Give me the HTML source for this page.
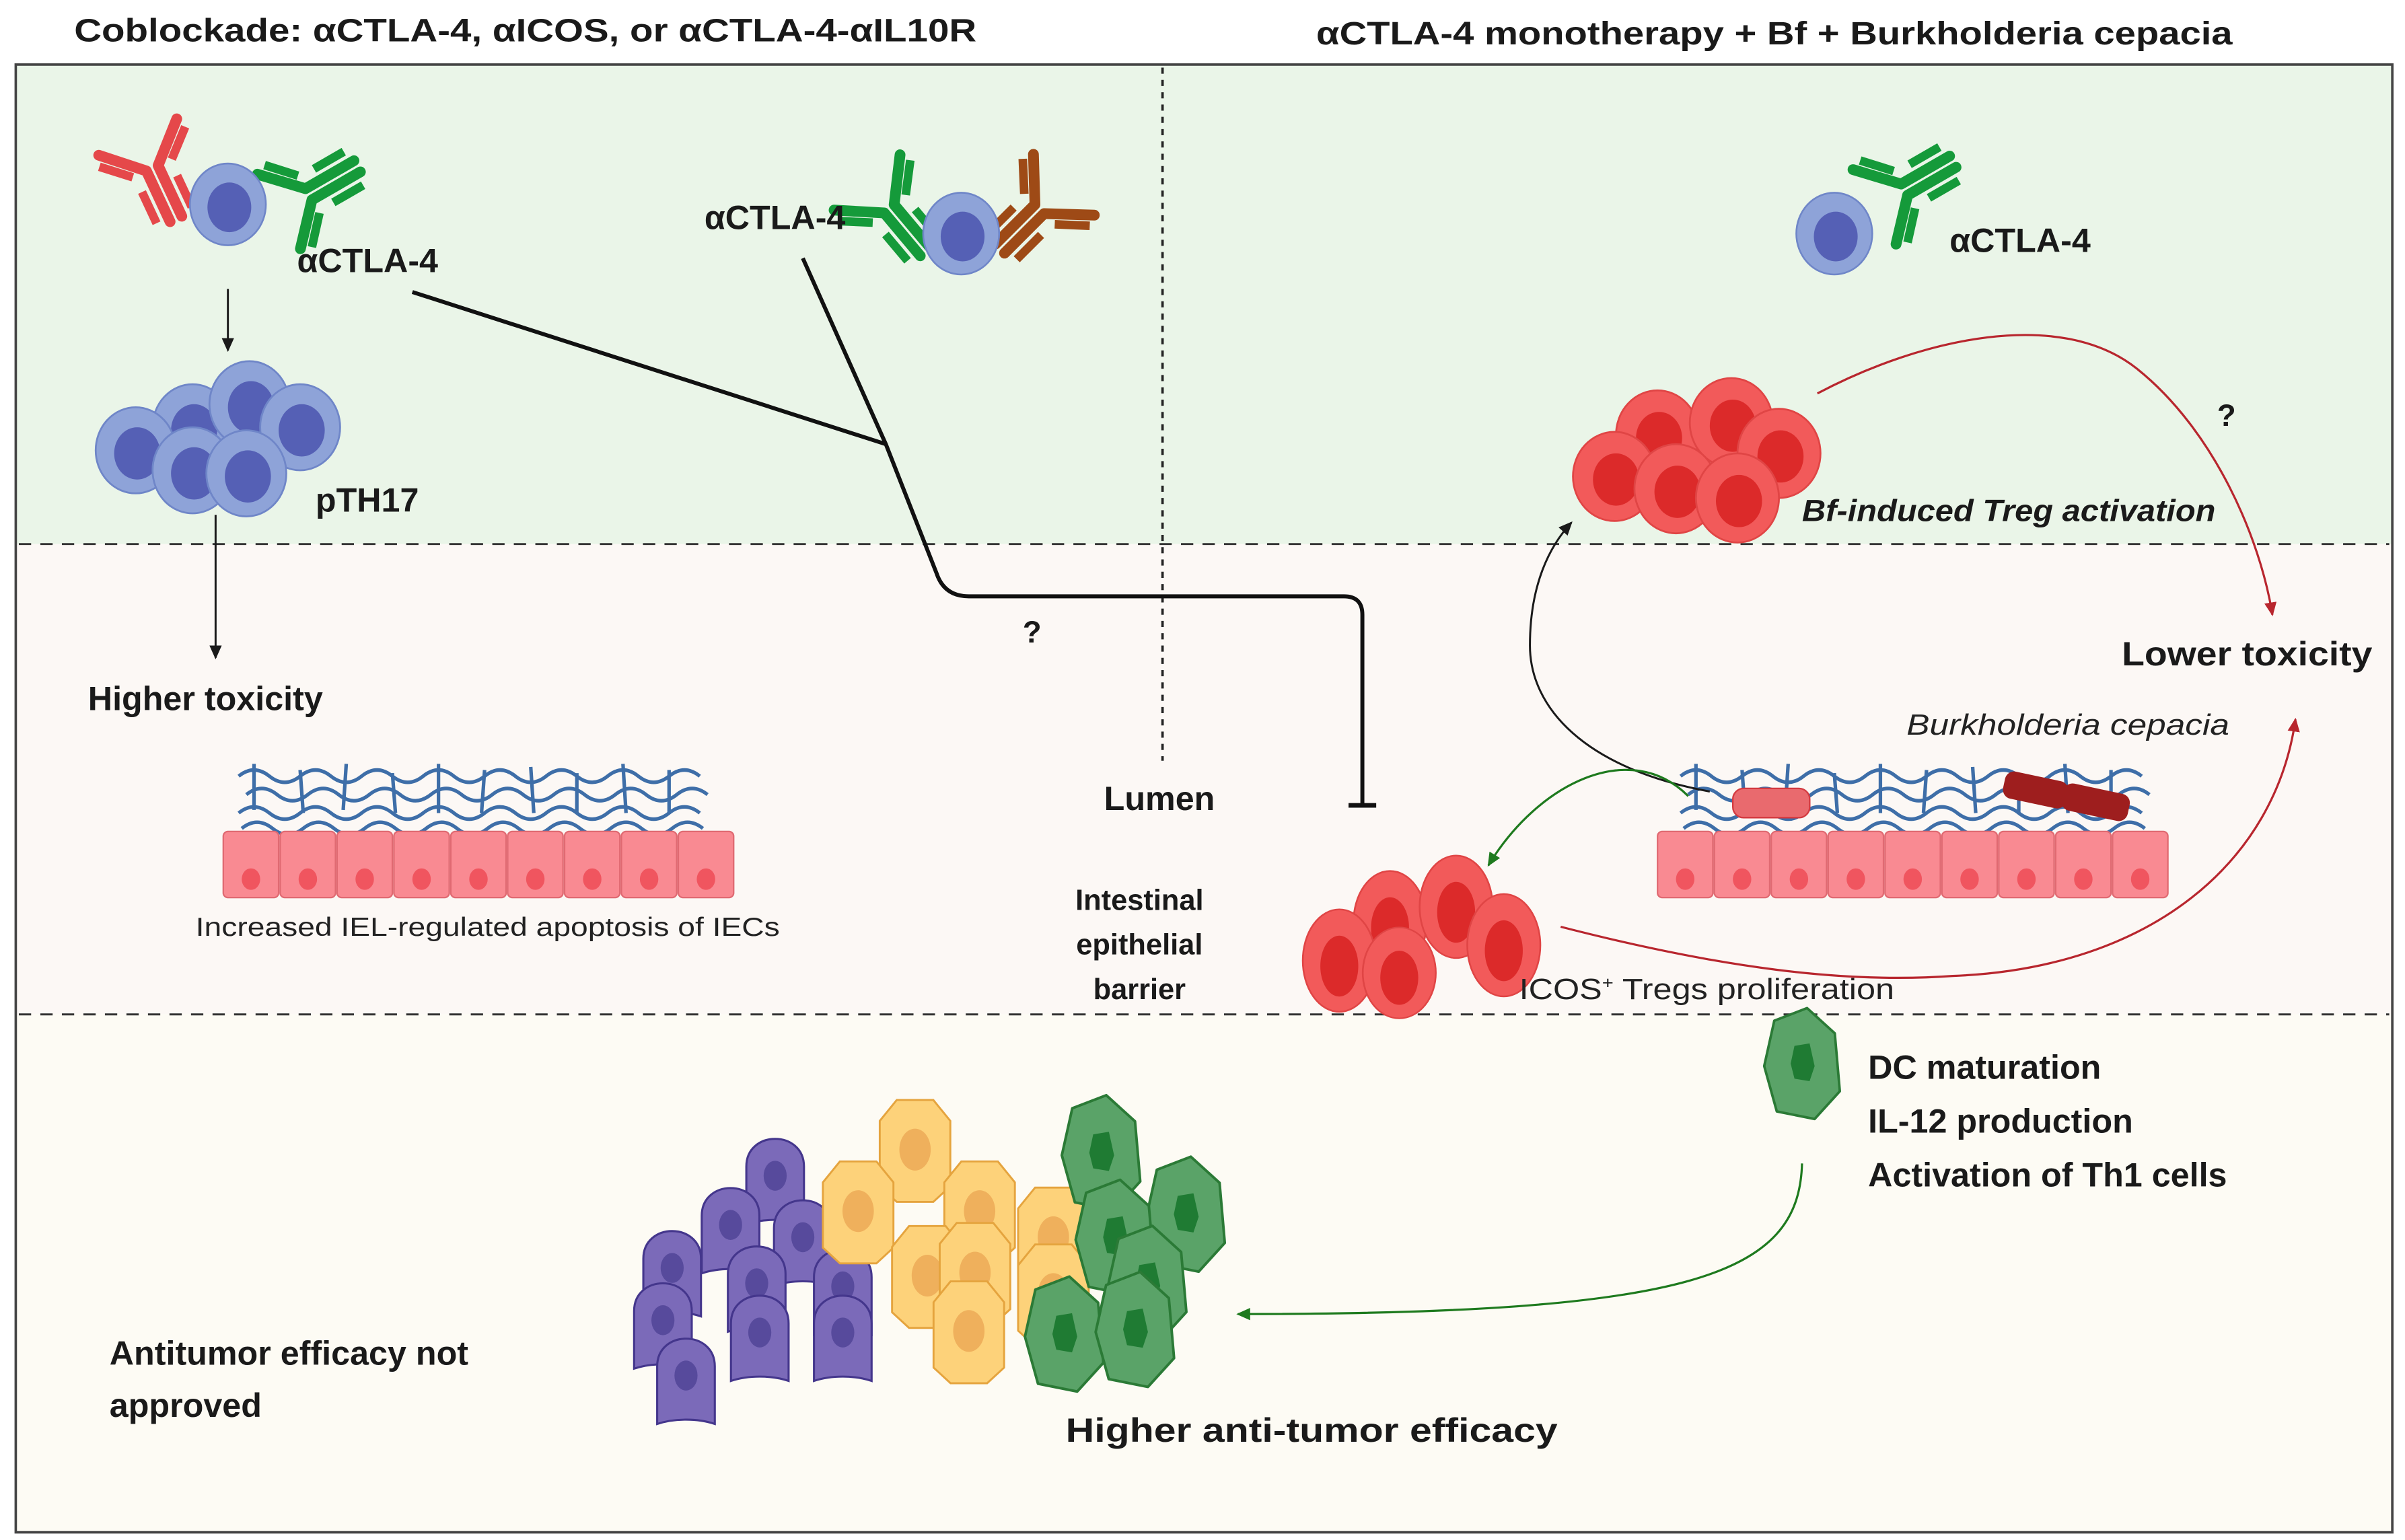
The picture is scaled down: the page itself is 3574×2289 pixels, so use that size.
<!DOCTYPE html>
<html><head><meta charset="utf-8">
<style>
html,body{margin:0;padding:0;background:#fff;}
svg{display:block;}
text{font-family:"Liberation Sans",sans-serif;}
.b{font-weight:bold;fill:#1a1a1a;}
</style></head><body>
<svg width="3574" height="2289" viewBox="0 0 1564 1002" xmlns="http://www.w3.org/2000/svg">
<defs>
<g id="ab">
 <path d="M-3,24 L-3,-2 L-20,-18" fill="none" stroke-width="5" stroke-linecap="round" stroke-linejoin="round"/>
 <path d="M3,24 L3,-2 L20,-18" fill="none" stroke-width="5" stroke-linecap="round" stroke-linejoin="round"/>
 <path d="M-10,-2 L-22,-13" fill="none" stroke-width="4"/>
 <path d="M10,-2 L22,-13" fill="none" stroke-width="4"/>
 <path d="M-9,6 L-9,22" fill="none" stroke-width="4"/>
 <path d="M9,6 L9,22" fill="none" stroke-width="4"/>
</g>
<g id="bc"><ellipse cx="0" cy="0" rx="26" ry="28" fill="#8ea3d8" stroke="#6f86c8" stroke-width="1.2"/><ellipse cx="1" cy="2" rx="15" ry="17" fill="#5560b5"/></g>
<g id="rc"><ellipse cx="0" cy="0" rx="27" ry="29" fill="#f25a5a" stroke="#e04545" stroke-width="1.2"/><ellipse cx="1" cy="2" rx="15" ry="17" fill="#dc2a2a"/></g>
<g id="rc2"><ellipse cx="0" cy="0" rx="25" ry="37" fill="#f25a5a" stroke="#e04545" stroke-width="1.2"/><ellipse cx="0" cy="4" rx="13" ry="22" fill="#dc2a2a"/></g>
<g id="ep"><rect x="0" y="0" width="36" height="43" rx="3" fill="#f98a92" stroke="#e06a72" stroke-width="1"/><ellipse cx="18" cy="31" rx="6" ry="7" fill="#f0555f"/></g>
<g id="pu"><path d="M-25,38 L-25,-12 C-25,-44 25,-44 25,-12 L25,38 C10,33 -10,33 -25,38Z" fill="#7b6ab9" stroke="#44368c" stroke-width="1.8"/><ellipse cx="0" cy="-4" rx="10" ry="13" fill="#574a9c"/></g>
<g id="hx"><path d="M-14,-38 L14,-38 L27,-22 L27,28 L14,40 L-14,40 L-27,28 L-27,-22Z" fill="#fdd27a" stroke="#e5a43e" stroke-width="1.5"/><ellipse cx="0" cy="0" rx="12" ry="16" fill="#efb05c"/></g>
<g id="dc"><path d="M-22,-34 L4,-44 L26,-24 L30,22 L10,44 L-20,38 L-30,2Z" fill="#5aa368" stroke="#2b7a36" stroke-width="2" stroke-linejoin="round"/><path d="M-6,-14 L6,-16 L10,2 L6,14 L-6,12 L-9,0Z" fill="#1f7b33"/></g>
<g id="mu" fill="none" stroke="#3e6ea8" stroke-width="2.3">
 <path d="M0,8 q10,-8 20,0 t20,0 t20,0 t20,0 t20,0 t20,0 t20,0 t20,0 t20,0 t20,0 t20,0 t20,0 t20,0 t20,0 t20,0"/>
 <path d="M5,20 q10,-8 20,0 t20,0 t20,0 t20,0 t20,0 t20,0 t20,0 t20,0 t20,0 t20,0 t20,0 t20,0 t20,0 t20,0 t20,0"/>
 <path d="M0,32 q10,-8 20,0 t20,0 t20,0 t20,0 t20,0 t20,0 t20,0 t20,0 t20,0 t20,0 t20,0 t20,0 t20,0 t20,0 t20,0"/>
 <path d="M10,0 l0,30 M40,4 l2,28 M70,0 l-2,30 M100,6 l2,26 M130,0 l0,32 M160,4 l-2,28 M190,2 l2,30 M220,6 l0,26 M250,0 l2,32 M280,4 l0,28"/>
 <path d="M2,42 q10,-8 20,0 t20,0 t20,0 t20,0 t20,0 t20,0 t20,0 t20,0 t20,0 t20,0 t20,0 t20,0 t20,0 t20,0 t20,0"/>
</g>
<marker id="ak" markerWidth="10" markerHeight="10" refX="8" refY="5" orient="auto" markerUnits="userSpaceOnUse"><path d="M0,1 L9,5 L0,9Z" fill="#1a1a1a"/></marker>
<marker id="ar" markerWidth="10" markerHeight="10" refX="8" refY="5" orient="auto" markerUnits="userSpaceOnUse"><path d="M0,1 L9,5 L0,9Z" fill="#b8262e"/></marker>
<marker id="ag" markerWidth="10" markerHeight="10" refX="8" refY="5" orient="auto" markerUnits="userSpaceOnUse"><path d="M0,1 L9,5 L0,9Z" fill="#1e7a1e"/></marker>
</defs>
<rect width="1564" height="1002" fill="#fff"/>
<text x="48" y="27" class="b" font-size="21" textLength="587" lengthAdjust="spacingAndGlyphs">Coblockade: αCTLA-4, αICOS, or αCTLA-4-αIL10R</text>
<text x="856" y="29" class="b" font-size="21" textLength="596" lengthAdjust="spacingAndGlyphs">αCTLA-4 monotherapy + Bf + Burkholderia cepacia</text>
<rect x="10" y="42" width="1546" height="312" fill="#eaf5e8"/>
<rect x="10" y="354" width="1546" height="306" fill="#fcf8f5"/>
<rect x="10" y="660" width="1546" height="337" fill="#fdfbf4"/>
<rect x="10" y="42" width="1546" height="955" fill="none" stroke="#444" stroke-width="1.6"/>
<line x1="12" y1="354" x2="1554" y2="354" stroke="#333" stroke-width="1.3" stroke-dasharray="8,6"/>
<line x1="12" y1="660" x2="1554" y2="660" stroke="#333" stroke-width="1.3" stroke-dasharray="8,6"/>
<line x1="756" y1="44" x2="756" y2="495" stroke="#222" stroke-width="1.6" stroke-dasharray="4,4"/>

<g stroke="#e5484a"><use href="#ab" transform="translate(100,112) rotate(-25) scale(1.4)"/></g>
<g stroke="#159a3a"><use href="#ab" transform="translate(203,125) rotate(-120) scale(1.4)"/></g>
<use href="#bc" transform="translate(148,133) scale(0.95)"/>
<text x="193" y="177" class="b" font-size="22">αCTLA-4</text>
<line x1="148" y1="188" x2="148" y2="228" stroke="#1a1a1a" stroke-width="1.3" marker-end="url(#ak)"/>
<use href="#bc" transform="translate(125,278)"/>
<use href="#bc" transform="translate(162,263)"/>
<use href="#bc" transform="translate(195,278)"/>
<use href="#bc" transform="translate(88,293)"/>
<use href="#bc" transform="translate(125,306)"/>
<use href="#bc" transform="translate(160,308)"/>
<text x="205" y="333" class="b" font-size="22">pTH17</text>
<line x1="140" y1="335" x2="140" y2="428" stroke="#1a1a1a" stroke-width="1.3" marker-end="url(#ak)"/>
<text x="57" y="462" class="b" font-size="22">Higher toxicity</text>
<use href="#mu" transform="translate(155,497)"/>
<g transform="translate(145,541)">
<use href="#ep" x="0"/><use href="#ep" x="37"/><use href="#ep" x="74"/><use href="#ep" x="111"/><use href="#ep" x="148"/><use href="#ep" x="185"/><use href="#ep" x="222"/><use href="#ep" x="259"/><use href="#ep" x="296"/>
</g>
<text x="317" y="609" font-size="17" fill="#222" text-anchor="middle" textLength="380" lengthAdjust="spacingAndGlyphs">Increased IEL-regulated apoptosis of IECs</text>

<g stroke="#159a3a"><use href="#ab" transform="translate(580,138) rotate(-40) scale(1.4)"/></g>
<g stroke="#9e4a16"><use href="#ab" transform="translate(674,138) rotate(45) scale(1.4)"/></g>
<use href="#bc" transform="translate(625,152) scale(0.95)"/>
<text x="458" y="149" class="b" font-size="22">αCTLA-4</text>
<line x1="268" y1="190" x2="576" y2="289" stroke="#111" stroke-width="2.6"/>
<path d="M522,168 L576,289 L609,373 Q614,388 630,388 L874,388 Q886,388 886,400 L886,523" fill="none" stroke="#111" stroke-width="2.6"/>
<line x1="877" y1="524" x2="895" y2="524" stroke="#111" stroke-width="3"/>
<text x="665" y="418" class="b" font-size="20">?</text>
<text x="754" y="527" class="b" font-size="22" text-anchor="middle">Lumen</text>
<text x="741" y="592" class="b" font-size="19" text-anchor="middle">Intestinal</text>
<text x="741" y="621" class="b" font-size="19" text-anchor="middle">epithelial</text>
<text x="741" y="650" class="b" font-size="19" text-anchor="middle">barrier</text>
<use href="#rc2" transform="translate(904,600) scale(0.95,0.9)"/>
<use href="#rc2" transform="translate(947,590) scale(0.95,0.9)"/>
<use href="#rc2" transform="translate(978,615) scale(0.95,0.9)"/>
<use href="#rc2" transform="translate(871,625) scale(0.95,0.9)"/>
<use href="#rc2" transform="translate(910,633) scale(0.95,0.8)"/>
<text x="988" y="650" font-size="19" fill="#222" textLength="244" lengthAdjust="spacingAndGlyphs">ICOS<tspan font-size="11" dy="-7">+</tspan><tspan dy="7"> Tregs proliferation</tspan></text>

<g stroke="#159a3a"><use href="#ab" transform="translate(1241,122) rotate(-120) scale(1.4)"/></g>
<use href="#bc" transform="translate(1193,152) scale(0.95)"/>
<text x="1268" y="164" class="b" font-size="22">αCTLA-4</text>
<use href="#rc" transform="translate(1078,283)"/>
<use href="#rc" transform="translate(1126,275)"/>
<use href="#rc" transform="translate(1157,295)"/>
<use href="#rc" transform="translate(1050,310)"/>
<use href="#rc" transform="translate(1090,318)"/>
<use href="#rc" transform="translate(1130,324)"/>
<text x="1172" y="339" font-size="20" font-weight="bold" font-style="italic" fill="#1a1a1a" textLength="269" lengthAdjust="spacingAndGlyphs">Bf-induced Treg activation</text>
<path d="M1182,256 C1250,220 1340,200 1390,240 C1440,280 1470,350 1478,400" fill="none" stroke="#b8262e" stroke-width="1.4" marker-end="url(#ar)"/>
<text x="1442" y="277" class="b" font-size="20">?</text>
<text x="1380" y="433" class="b" font-size="22" textLength="163" lengthAdjust="spacingAndGlyphs">Lower toxicity</text>
<text x="1240" y="478" font-size="19" font-style="italic" fill="#222" textLength="210" lengthAdjust="spacingAndGlyphs">Burkholderia cepacia</text>
<use href="#mu" transform="translate(1093,497)"/>
<rect x="1127" y="513" width="50" height="19" rx="7" fill="#e96a6e" stroke="#d33a40" stroke-width="1"/>
<rect x="1303" y="505" width="42" height="18" rx="6" fill="#9e1e1e" transform="rotate(12 1324 514)"/>
<rect x="1341" y="513" width="44" height="18" rx="6" fill="#9e1e1e" transform="rotate(12 1363 522)"/>
<g transform="translate(1078,541)">
<use href="#ep" x="0"/><use href="#ep" x="37"/><use href="#ep" x="74"/><use href="#ep" x="111"/><use href="#ep" x="148"/><use href="#ep" x="185"/><use href="#ep" x="222"/><use href="#ep" x="259"/><use href="#ep" x="296"/>
</g>
<path d="M1112,515 C1030,500 995,460 995,420 C995,380 1008,355 1022,340" fill="none" stroke="#1a1a1a" stroke-width="1.3" marker-end="url(#ak)"/>
<path d="M1098,518 C1060,480 1000,510 968,563" fill="none" stroke="#1e7a1e" stroke-width="1.4" marker-end="url(#ag)"/>
<path d="M1015,603 C1120,630 1200,640 1270,635 C1400,630 1480,560 1493,468" fill="none" stroke="#b8262e" stroke-width="1.4" marker-end="url(#ar)"/>

<use href="#dc" transform="translate(1172,692) scale(0.82)"/>
<text x="1215" y="702" class="b" font-size="22">DC maturation</text>
<text x="1215" y="737" class="b" font-size="22">IL-12 production</text>
<text x="1215" y="772" class="b" font-size="22">Activation of Th1 cells</text>
<path d="M1172,757 C1170,830 1100,855 805,855" fill="none" stroke="#1e7a1e" stroke-width="1.4" marker-end="url(#ag)"/>
<!-- tumor cluster -->
<g transform="translate(0,0)">
<use href="#pu" transform="translate(504,768) scale(0.75)"/>
<use href="#pu" transform="translate(475,800) scale(0.75)"/>
<use href="#pu" transform="translate(522,808) scale(0.75)"/>
<use href="#pu" transform="translate(437,828) scale(0.75)"/>
<use href="#pu" transform="translate(492,838) scale(0.75)"/>
<use href="#pu" transform="translate(548,840) scale(0.75)"/>
<use href="#pu" transform="translate(431,862) scale(0.75)"/>
<use href="#pu" transform="translate(494,870) scale(0.75)"/>
<use href="#pu" transform="translate(548,870) scale(0.75)"/>
<use href="#pu" transform="translate(446,898) scale(0.75)"/>
<use href="#hx" transform="translate(595,748) scale(0.85)"/>
<use href="#hx" transform="translate(558,788) scale(0.85)"/>
<use href="#hx" transform="translate(637,788) scale(0.85)"/>
<use href="#hx" transform="translate(685,805) scale(0.85)"/>
<use href="#hx" transform="translate(603,830) scale(0.85)"/>
<use href="#hx" transform="translate(634,828) scale(0.85)"/>
<use href="#hx" transform="translate(685,842) scale(0.85)"/>
<use href="#hx" transform="translate(630,866) scale(0.85)"/>
<use href="#dc" transform="translate(716,750) scale(0.85)"/>
<use href="#dc" transform="translate(771,790) scale(0.85)"/>
<use href="#dc" transform="translate(725,805) scale(0.85)"/>
<use href="#dc" transform="translate(746,835) scale(0.85)"/>
<use href="#dc" transform="translate(692,868) scale(0.85)"/>
<use href="#dc" transform="translate(738,865) scale(0.85)"/>
</g>
<text x="71" y="888" class="b" font-size="22">Antitumor efficacy not</text>
<text x="71" y="922" class="b" font-size="22">approved</text>
<text x="693" y="938" class="b" font-size="22" textLength="320" lengthAdjust="spacingAndGlyphs">Higher  anti-tumor  efficacy</text>
</svg>
</body></html>
